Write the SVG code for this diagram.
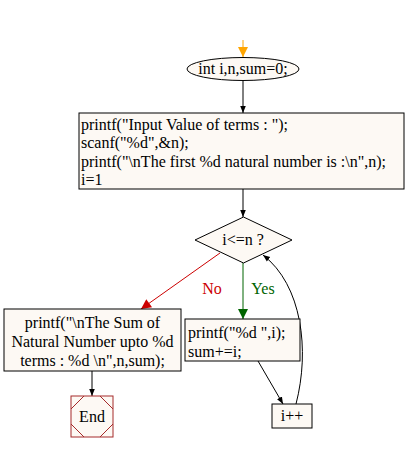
<svg xmlns="http://www.w3.org/2000/svg" width="408" height="452" viewBox="0 0 408 452">
<style>
.n{fill:#fdf9f4;stroke:#000;stroke-width:1}
.t{font-family:"Liberation Serif","Times New Roman",serif;font-size:16px;fill:#000}
.e{fill:none;stroke-width:1}
</style>
<defs>
<marker id="ab" viewBox="0 0 10 10" refX="10" refY="5" markerWidth="7" markerHeight="11" orient="auto" markerUnits="userSpaceOnUse"><path d="M0,1 L10,5 L0,9 Z" fill="#000"/></marker>
<marker id="ao" viewBox="0 0 10 10" refX="10" refY="5" markerWidth="12" markerHeight="10" orient="auto" markerUnits="userSpaceOnUse"><path d="M0,0 L10,5 L0,10 Z" fill="#ffa500"/></marker>
<marker id="ar" viewBox="0 0 10 10" refX="10" refY="5" markerWidth="12" markerHeight="10" orient="auto" markerUnits="userSpaceOnUse"><path d="M0,0 L10,5 L0,10 Z" fill="#cc0000"/></marker>
<marker id="ag" viewBox="0 0 10 10" refX="10" refY="5" markerWidth="12" markerHeight="10" orient="auto" markerUnits="userSpaceOnUse"><path d="M0,0 L10,5 L0,10 Z" fill="#006400"/></marker>
</defs>
<rect width="408" height="452" fill="#fff"/>
<g id="edges">
<path class="e" stroke="#ffa500" d="M243,40 L243,57" marker-end="url(#ao)"/>
<path class="e" stroke="#000" d="M243,80 L243,113" marker-end="url(#ab)"/>
<path class="e" stroke="#000" d="M243,189 L243,217" marker-end="url(#ab)"/>
<path class="e" stroke="#cc0000" d="M220,253 L141,309" marker-end="url(#ar)"/>
<path class="e" stroke="#006400" d="M243,263 L243,319" marker-end="url(#ag)"/>
<path class="e" stroke="#000" d="M92,371 L92,396" marker-end="url(#ab)"/>
<path class="e" stroke="#000" d="M258,361 L283,404" marker-end="url(#ab)"/>
<path class="e" stroke="#000" d="M296,404 C310,350 302,285 263,255" marker-end="url(#ab)"/>
<text class="t" x="212" y="294" text-anchor="middle" style="fill:#cc0000">No</text>
<text class="t" x="263" y="294" text-anchor="middle" style="fill:#006400">Yes</text>
</g>
<g id="start">
<ellipse class="n" cx="243" cy="69" rx="56" ry="11.5"/>
<text class="t" x="243" y="74" text-anchor="middle">int i,n,sum=0;</text>
</g>
<g id="input">
<rect class="n" x="79" y="113" width="325" height="76"/>
<text class="t" x="81" y="130">printf("Input Value of terms : ");</text>
<text class="t" x="81" y="148">scanf("%d",&amp;n);</text>
<text class="t" x="81" y="167">printf("\nThe first %d natural number is :\n",n);</text>
<text class="t" x="81" y="185">i=1</text>
</g>
<g id="cond">
<path class="n" d="M243.5,217 L292,240 L243.5,263 L195,240 Z"/>
<text class="t" x="243" y="245" text-anchor="middle">i&lt;=n ?</text>
</g>
<g id="sum">
<rect class="n" x="4" y="309" width="177" height="62"/>
<text class="t" x="92.5" y="328" text-anchor="middle">printf("\nThe Sum of</text>
<text class="t" x="92.5" y="347" text-anchor="middle">Natural Number upto %d</text>
<text class="t" x="92.5" y="366" text-anchor="middle">terms : %d \n",n,sum);</text>
</g>
<g id="end">
<rect x="71" y="396" width="42" height="41" fill="#fdf9f4" stroke="#a52a2a"/>
<path d="M71,409 L84,396 M100,396 L113,409 M113,424 L100,437 M84,437 L71,424" stroke="#a52a2a" fill="none"/>
<text class="t" x="92" y="422" text-anchor="middle">End</text>
</g>
<g id="body">
<rect class="n" x="185" y="319" width="115" height="42"/>
<text class="t" x="188" y="338">printf("%d ",i);</text>
<text class="t" x="188" y="357">sum+=i;</text>
</g>
<g id="inc">
<rect class="n" x="272" y="404" width="40" height="24"/>
<text class="t" x="292" y="421" text-anchor="middle">i++</text>
</g>
</svg>
